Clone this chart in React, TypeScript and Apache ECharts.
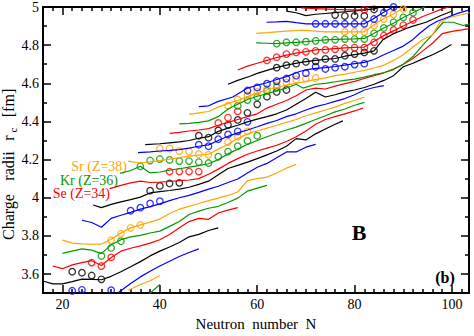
import React, { useEffect, useRef } from 'react';
import * as echarts from 'echarts';

const RED = '#ff0000';
const GREEN = '#009a00';
const ORANGE = '#ffa500';
const BLUE = '#0000ff';
const BLACK = '#000000';

const xMajorTicks = [20, 40, 60, 80, 100];
const xMinorTicks = [18, 22, 24, 26, 28, 30, 32, 34, 36, 38, 42, 44, 46, 48, 50, 52, 54, 56, 58, 62, 64, 66, 68, 70, 72, 74, 76, 78, 82, 84, 86, 88, 90, 92, 94, 96, 98, 102];
const yMajorTicks = [3.6, 3.8, 4.0, 4.2, 4.4, 4.6, 4.8, 5.0];
const yMinorTicks = [3.5, 3.7, 3.9, 4.1, 4.3, 4.5, 4.7, 4.9];

// theory lines (N, r_c), chains ordered bottom to top
const line01 = [[37.6, 3.49], [38, 3.5], [40, 3.545]];
const line02 = [[33.5, 3.515], [36, 3.545], [38, 3.565], [40, 3.592]];
const line03 = [[31.5, 3.503], [34, 3.55], [36, 3.585], [38, 3.615], [40, 3.642], [42, 3.667], [44, 3.692], [46, 3.713], [48, 3.732]];
const line04 = [[15.8, 3.565], [18, 3.548], [20, 3.548], [22, 3.56], [24, 3.573], [26, 3.572], [28, 3.57], [30, 3.588], [32, 3.612], [34, 3.638], [36, 3.665], [38, 3.695], [40, 3.72], [42, 3.742], [44, 3.765], [46, 3.795], [48, 3.808], [50, 3.828], [52, 3.842]];
const line05 = [[18, 3.642], [20, 3.628], [22, 3.648], [24, 3.66], [26, 3.67], [28, 3.645], [30, 3.687], [32, 3.72], [34, 3.735], [36, 3.748], [38, 3.762], [40, 3.78], [42, 3.807], [44, 3.842], [46, 3.875], [48, 3.892], [50, 3.887], [52, 3.92], [54, 3.935], [56, 3.948]];
const line06 = [[20, 3.708], [22, 3.72], [24, 3.732], [26, 3.725], [28, 3.707], [30, 3.753], [32, 3.78], [34, 3.795], [36, 3.803], [38, 3.815], [40, 3.825], [42, 3.85], [44, 3.875], [46, 3.912], [48, 3.93], [50, 3.945], [52, 3.955], [54, 3.975], [56, 3.998], [58, 4.035], [60, 4.05], [62, 4.065]];
const line07 = [[20, 3.778], [22, 3.762], [24, 3.758], [26, 3.757], [28, 3.757], [30, 3.782], [32, 3.815], [34, 3.842], [36, 3.858], [38, 3.872], [40, 3.888], [42, 3.917], [44, 3.94], [46, 3.955], [48, 3.97], [50, 3.985], [52, 3.998], [54, 4.012], [56, 4.03], [58, 4.09], [60, 4.1], [62, 4.108], [64, 4.13], [66, 4.155], [68, 4.175]];
const line08 = [[24, 3.882], [26, 3.87], [28, 3.845], [30, 3.892], [32, 3.908], [34, 3.923], [36, 3.94], [38, 3.953], [40, 3.968], [42, 3.985], [44, 4.0], [46, 4.012], [48, 4.028], [50, 4.045], [52, 4.06], [54, 4.08], [56, 4.098], [58, 4.13], [60, 4.16], [62, 4.18], [64, 4.21], [66, 4.24], [68, 4.24], [70, 4.265], [72, 4.28]];
const line09 = [[26.3, 3.962], [28, 3.948], [30, 3.965], [32, 3.978], [34, 3.99], [36, 4.003], [38, 4.025], [40, 4.032], [42, 4.038], [44, 4.045], [46, 4.055], [48, 4.07], [50, 4.087], [52, 4.12], [54, 4.153], [56, 4.17], [58, 4.187], [60, 4.205], [62, 4.225], [64, 4.245], [66, 4.27], [68, 4.31], [70, 4.303], [72, 4.335], [74, 4.36], [76, 4.385], [77.6, 4.403]];
const line10 = [[29.7, 4.048], [32, 4.065], [34, 4.078], [36, 4.087], [38, 4.08], [40, 4.082], [42, 4.085], [44, 4.09], [46, 4.093], [48, 4.1], [50, 4.123], [52, 4.15], [54, 4.18], [56, 4.205], [58, 4.228], [60, 4.245], [62, 4.26], [64, 4.275], [66, 4.295], [68, 4.32], [70, 4.35], [72, 4.385], [74, 4.41], [76, 4.425], [78, 4.44], [80, 4.455], [81.7, 4.47]];
const line11 = [[31.8, 4.128], [34, 4.143], [36, 4.165], [38, 4.13], [40, 4.135], [42, 4.145], [44, 4.152], [46, 4.16], [48, 4.168], [50, 4.178], [52, 4.2], [54, 4.23], [56, 4.255], [58, 4.28], [60, 4.3], [62, 4.32], [64, 4.338], [66, 4.355], [68, 4.37], [70, 4.39], [72, 4.41], [74, 4.43], [76, 4.45], [78, 4.465], [80, 4.485], [82, 4.5]];
const line12 = [[33.5, 4.192], [36, 4.182], [38, 4.188], [40, 4.195], [42, 4.202], [44, 4.21], [46, 4.218], [48, 4.223], [50, 4.228], [52, 4.255], [54, 4.28], [56, 4.31], [58, 4.335], [60, 4.35], [62, 4.365], [64, 4.38], [66, 4.395], [68, 4.41], [70, 4.43], [72, 4.445], [74, 4.46], [76, 4.475], [78, 4.495], [80, 4.51], [82, 4.528]];
const line13 = [[35.5, 4.237], [38, 4.24], [40, 4.245], [42, 4.248], [44, 4.252], [46, 4.26], [48, 4.27], [50, 4.277], [52, 4.3], [54, 4.322], [56, 4.34], [58, 4.355], [60, 4.372], [62, 4.39], [64, 4.405], [66, 4.425], [68, 4.44], [70, 4.46], [72, 4.478], [74, 4.49], [76, 4.505], [78, 4.52], [80, 4.54], [82, 4.565], [84, 4.578], [86, 4.588]];
const line14 = [[37, 4.278], [40, 4.283], [42, 4.288], [44, 4.293], [46, 4.3], [48, 4.312], [50, 4.32], [52, 4.348], [54, 4.365], [56, 4.38], [58, 4.398], [60, 4.412], [62, 4.425], [64, 4.44], [66, 4.46], [68, 4.49], [70, 4.52], [72, 4.553], [74, 4.528], [76, 4.54], [78, 4.555], [80, 4.565], [82, 4.578], [84, 4.595], [86, 4.615], [88, 4.64], [90, 4.687], [92, 4.705], [94, 4.728], [96, 4.75], [98, 4.775], [99.9, 4.803]];
const line15 = [[42, 4.337], [44, 4.343], [46, 4.35], [48, 4.355], [50, 4.362], [52, 4.38], [54, 4.395], [56, 4.41], [58, 4.425], [60, 4.44], [62, 4.47], [64, 4.49], [66, 4.51], [68, 4.535], [70, 4.565], [72, 4.575], [74, 4.57], [76, 4.585], [78, 4.598], [80, 4.61], [82, 4.625], [84, 4.64], [86, 4.655], [88, 4.675], [90, 4.7], [92, 4.73], [94, 4.77], [96, 4.81], [98, 4.86], [100, 4.872], [102, 4.88], [103.6, 4.887]];
const line16 = [[44, 4.387], [46, 4.39], [48, 4.395], [50, 4.403], [52, 4.425], [54, 4.465], [56, 4.49], [58, 4.515], [60, 4.532], [62, 4.545], [64, 4.56], [66, 4.575], [68, 4.595], [69.4, 4.575], [72, 4.595], [74, 4.6], [76, 4.608], [78, 4.615], [80, 4.622], [82, 4.632], [84, 4.645], [86, 4.655], [88, 4.672], [90, 4.7], [92, 4.74], [94, 4.8], [96, 4.855], [98.2, 4.92], [100.2, 4.92], [102.3, 4.903], [103.6, 4.912]];
const line17 = [[46, 4.437], [48, 4.445], [50, 4.452], [52, 4.475], [54, 4.495], [56, 4.51], [58, 4.53], [60, 4.55], [62, 4.565], [64, 4.578], [66, 4.59], [68, 4.6], [70, 4.61], [72, 4.62], [74, 4.628], [76, 4.64], [78, 4.648], [80, 4.658], [82, 4.668], [84, 4.68], [86, 4.695], [88, 4.72], [90, 4.75], [92, 4.79], [94, 4.83], [96, 4.853], [97.5, 4.92], [99.5, 4.945], [103.6, 4.97]];
const line18 = [[48, 4.478], [50, 4.482], [52, 4.505], [55, 4.528], [58, 4.575], [60, 4.59], [62, 4.603], [64, 4.62], [66, 4.635], [68.7, 4.662], [70, 4.67], [72, 4.678], [74, 4.682], [76, 4.688], [78, 4.695], [80, 4.703], [82, 4.71], [84, 4.725], [86, 4.75], [88, 4.772], [90, 4.795], [92, 4.83], [93.4, 4.862], [95.4, 4.903], [97, 4.925], [99, 4.945], [101, 4.965], [103.6, 4.985]];
const line19 = [[54, 4.595], [56, 4.615], [58.5, 4.637], [60, 4.652], [62, 4.668], [63.9, 4.682], [66, 4.695], [68.7, 4.708], [70, 4.714], [72, 4.72], [74, 4.725], [76, 4.73], [78, 4.742], [80, 4.75], [82, 4.758], [84, 4.77], [85.8, 4.828], [88, 4.86], [90.6, 4.887], [92, 4.9], [94.7, 4.92], [97.5, 4.953], [99.9, 4.978]];
const line20 = [[56, 4.67], [58, 4.69], [60, 4.705], [62, 4.72], [64, 4.735], [66, 4.748], [68, 4.758], [70, 4.766], [72, 4.775], [74, 4.778], [76, 4.782], [78, 4.786], [80, 4.788], [82, 4.79], [84, 4.82], [86, 4.85], [88, 4.875], [90, 4.9], [92, 4.925], [94, 4.95], [96, 4.97], [98, 4.99], [100, 5.005]];
const line21 = [[59.8, 4.812], [62, 4.81], [64, 4.808], [66, 4.812], [68, 4.815], [70, 4.818], [72, 4.823], [74, 4.828], [76, 4.83], [78, 4.832], [80, 4.833], [82, 4.835], [84, 4.862], [86, 4.89], [88, 4.915], [90, 4.945], [92, 4.97], [94.7, 5.005]];
const line22 = [[59.8, 4.862], [62, 4.866], [64, 4.87], [66, 4.874], [68.7, 4.878], [70, 4.877], [72, 4.873], [74, 4.87], [76, 4.87], [78, 4.87], [80, 4.87], [82, 4.87], [83.8, 4.903], [85.8, 4.937], [87.9, 4.962], [89.9, 4.992], [90.5, 5.005]];
const line23 = [[61.9, 4.92], [64, 4.922], [66, 4.925], [68, 4.918], [70, 4.912], [72, 4.912], [74, 4.912], [76, 4.912], [78, 4.912], [80, 4.912], [82, 4.912], [83.8, 4.937], [85.8, 4.97], [87.9, 5.0]];
const line24 = [[66, 4.978], [68, 4.97], [70, 4.955], [72, 4.962], [74, 4.966], [76, 4.97], [78, 4.975], [80, 4.98], [82, 4.985], [84, 4.99], [86, 5.005]];
const line25 = [[69, 4.995], [72, 4.992], [76, 4.988], [80, 4.985], [82, 4.985], [83, 5.005]];

// experimental points (N, r_c)
const exp03 = [[22, 3.512], [24, 3.517], [30, 3.515]];
const exp04 = [[22, 3.612], [24, 3.607], [26, 3.592], [28, 3.572]];
const exp05 = [[26, 3.66], [28, 3.642], [30, 3.687]];
const exp06 = [[28, 3.695], [30, 3.737], [32, 3.772]];
const exp07 = [[30, 3.777], [32, 3.812], [34, 3.842], [36, 3.858]];
const exp08 = [[34, 3.932], [36, 3.948], [38, 3.97], [40, 3.982]];
const exp09 = [[38, 4.037], [40, 4.062], [42, 4.075], [44, 4.078]];
const exp10 = [[42, 4.137], [44, 4.137], [46, 4.137], [48, 4.137]];
const exp11 = [[36, 4.165], [38, 4.195], [40, 4.203], [42, 4.198], [44, 4.192], [46, 4.192], [48, 4.187], [50, 4.182], [52, 4.215], [54, 4.242], [56, 4.27], [58, 4.298], [60, 4.325]];
const exp12 = [[40, 4.258], [42, 4.258], [44, 4.245], [46, 4.242], [48, 4.228], [50, 4.225], [54, 4.292], [56, 4.32], [58, 4.348]];
const exp13 = [[48, 4.278], [50, 4.27], [52, 4.307], [54, 4.332], [56, 4.348], [58, 4.398]];
const exp14 = [[48, 4.325], [50, 4.315], [52, 4.353], [54, 4.382], [56, 4.408], [58, 4.445], [60, 4.49], [62, 4.53], [64, 4.555], [66, 4.565]];
const exp15 = [[52, 4.392], [54, 4.42], [56, 4.453]];
const exp16 = [[56, 4.482], [58, 4.512], [60, 4.528], [62, 4.56], [64, 4.578]];
const exp17 = [[54, 4.482], [56, 4.515], [58, 4.537], [60, 4.555], [62, 4.57], [64, 4.59], [66, 4.605], [68, 4.62], [70, 4.625], [72, 4.628]];
const exp18 = [[58, 4.562], [60, 4.578], [62, 4.598], [64, 4.612], [66, 4.625], [68, 4.64], [70, 4.653], [72, 4.687], [74, 4.675], [76, 4.682], [78, 4.687], [80, 4.698], [82, 4.703]];
const exp19 = [[64, 4.682], [66, 4.695], [68, 4.703], [70, 4.712], [72, 4.715], [74, 4.728], [76, 4.728], [78, 4.745], [80, 4.753], [82, 4.762], [84, 4.77]];
const exp20 = [[62, 4.72], [64, 4.737], [66, 4.753], [68, 4.762], [70, 4.765], [72, 4.77], [74, 4.775], [76, 4.778], [78, 4.785], [80, 4.787], [82, 4.787], [84, 4.815], [86, 4.85], [88, 4.88], [90, 4.905], [92, 4.932]];
const exp21 = [[64, 4.808], [66, 4.815], [68, 4.815], [70, 4.818], [72, 4.823], [74, 4.828], [76, 4.828], [78, 4.832], [80, 4.832], [82, 4.832], [84, 4.862], [86, 4.89], [88, 4.92], [90, 4.945], [92, 4.97]];
const exp22 = [[78, 4.87], [80, 4.87], [82, 4.87], [84, 4.903], [86, 4.937], [88, 4.962], [90, 4.99]];
const exp23 = [[72, 4.912], [74, 4.912], [76, 4.912], [78, 4.912], [80, 4.912], [82, 4.912], [84, 4.937], [86, 4.97], [88, 5.0]];
const exp24 = [[76, 4.958], [78, 4.953], [80, 4.953], [82, 4.953], [84, 4.987]];
const exp25 = [[82, 4.985]];

const lines: [number[][], string][] = [
  [line01, GREEN], [line02, ORANGE], [line03, BLUE], [line04, BLACK], [line05, RED],
  [line06, GREEN], [line07, ORANGE], [line08, BLUE], [line09, BLACK], [line10, RED],
  [line11, GREEN], [line12, ORANGE], [line13, BLUE], [line14, BLACK], [line15, RED],
  [line16, GREEN], [line17, ORANGE], [line18, BLUE], [line19, BLACK], [line20, RED],
  [line21, GREEN], [line22, ORANGE], [line23, BLUE], [line24, BLACK], [line25, RED],
];
const points: [number[][], string][] = [
  [exp03, BLUE], [exp04, BLACK], [exp05, RED], [exp06, GREEN], [exp07, ORANGE],
  [exp08, BLUE], [exp09, BLACK], [exp10, RED], [exp11, GREEN], [exp12, ORANGE],
  [exp13, BLUE], [exp14, BLACK], [exp15, RED], [exp16, GREEN], [exp17, ORANGE], [exp18, BLUE],
  [exp19, BLACK], [exp20, RED], [exp21, GREEN], [exp22, ORANGE], [exp23, BLUE],
  [exp24, BLACK], [exp25, RED],
];

const FONT = 'Liberation Serif';

function xAxisDef(pos: 'top' | 'bottom', ticks: number[], len: number, labels: boolean) {
  return {
    type: 'value', min: 16, max: 103.5, position: pos,
    axisLine: { show: true, onZero: false, lineStyle: { color: '#000', width: 1.8 } },
    axisTick: { show: true, inside: true, length: len, customValues: ticks, lineStyle: { color: '#000', width: 1.5 } },
    axisLabel: labels
      ? { show: true, customValues: ticks, margin: 4, color: '#000', fontFamily: FONT, fontSize: 14 }
      : { show: false },
    splitLine: { show: false },
    name: labels ? 'Neutron  number  N' : '',
    nameLocation: 'middle', nameGap: 16,
    nameTextStyle: { color: '#000', fontFamily: FONT, fontSize: 15 },
  };
}
function yAxisDef(pos: 'left' | 'right', ticks: number[], len: number, labels: boolean) {
  return {
    type: 'value', min: 3.5, max: 5.0, position: pos,
    axisLine: { show: true, onZero: false, lineStyle: { color: '#000', width: 1.8 } },
    axisTick: { show: true, inside: true, length: len, customValues: ticks, lineStyle: { color: '#000', width: 1.5 } },
    axisLabel: labels
      ? { show: true, customValues: ticks, margin: 4, color: '#000', fontFamily: FONT, fontSize: 14 }
      : { show: false },
    splitLine: { show: false },
  };
}

const rot = Math.PI / 2;
const titleFont = `16px "${FONT}"`;
const tagFont = `14px "${FONT}"`;

export default function App() {
  const ref = useRef<HTMLDivElement>(null);
  useEffect(() => {
    const chart = echarts.init(ref.current!, null, { renderer: 'svg' });
    const series: any[] = [];
    lines.forEach(([d, c]) => series.push({
      type: 'line', data: d, showSymbol: false, silent: true, clip: true,
      lineStyle: { color: c, width: 1.2 }, itemStyle: { color: c },
      xAxisIndex: 0, yAxisIndex: 0,
    }));
    points.forEach(([d, c]) => series.push({
      type: 'scatter', data: d, symbol: 'circle', symbolSize: 6.5, silent: true, clip: true,
      itemStyle: { color: 'rgba(0,0,0,0)', borderColor: c, borderWidth: 1.3 },
      xAxisIndex: 0, yAxisIndex: 0,
    }));
    chart.setOption({
      animation: false,
      backgroundColor: '#fff',
      grid: { left: 43, right: 5, top: 6, bottom: 30 },
      xAxis: [
        xAxisDef('bottom', xMajorTicks, 8, true),
        xAxisDef('bottom', xMinorTicks, 4, false),
        xAxisDef('top', xMajorTicks, 8, false),
        xAxisDef('top', xMinorTicks, 4, false),
      ],
      yAxis: [
        yAxisDef('left', yMajorTicks, 8, true),
        yAxisDef('left', yMinorTicks, 4, false),
        yAxisDef('right', yMajorTicks, 8, false),
        yAxisDef('right', yMinorTicks, 4, false),
      ],
      graphic: [
        { type: 'text', x: 8, y: 217, rotation: rot, style: { text: 'Charge', fill: '#000', font: titleFont, textAlign: 'center', textVerticalAlign: 'middle' } },
        { type: 'text', x: 8, y: 166, rotation: rot, style: { text: 'radii', fill: '#000', font: titleFont, textAlign: 'center', textVerticalAlign: 'middle' } },
        { type: 'text', x: 8, y: 138, rotation: rot, style: { text: 'r', fill: '#000', font: titleFont, textAlign: 'center', textVerticalAlign: 'middle' } },
        { type: 'text', x: 13, y: 130, rotation: rot, style: { text: 'c', fill: '#000', font: `11px "${FONT}"`, textAlign: 'center', textVerticalAlign: 'middle' } },
        { type: 'text', x: 8, y: 103, rotation: rot, style: { text: '[fm]', fill: '#000', font: titleFont, textAlign: 'center', textVerticalAlign: 'middle' } },
        { type: 'text', x: 127, y: 166.5, style: { text: 'Sr (Z=38)', fill: ORANGE, font: tagFont, lineHeight: 12, textAlign: 'right', textVerticalAlign: 'middle' } },
        { type: 'text', x: 118, y: 180, style: { text: 'Kr (Z=36)', fill: GREEN, font: tagFont, lineHeight: 12, textAlign: 'right', textVerticalAlign: 'middle' } },
        { type: 'text', x: 110, y: 193.5, style: { text: 'Se (Z=34)', fill: RED, font: tagFont, lineHeight: 12, textAlign: 'right', textVerticalAlign: 'middle' } },
        { type: 'text', x: 359, y: 232, style: { text: 'B', fill: '#000', font: `bold 22px "${FONT}"`, textAlign: 'center', textVerticalAlign: 'middle' } },
        { type: 'text', x: 445, y: 277, style: { text: '(b)', fill: '#000', font: `bold 16px "${FONT}"`, textAlign: 'center', textVerticalAlign: 'middle' } },
      ],
      series,
    });
    return () => chart.dispose();
  }, []);
  return <div ref={ref} style={{ position: 'fixed', left: 0, top: 0, width: 474, height: 336 }} />;
}
